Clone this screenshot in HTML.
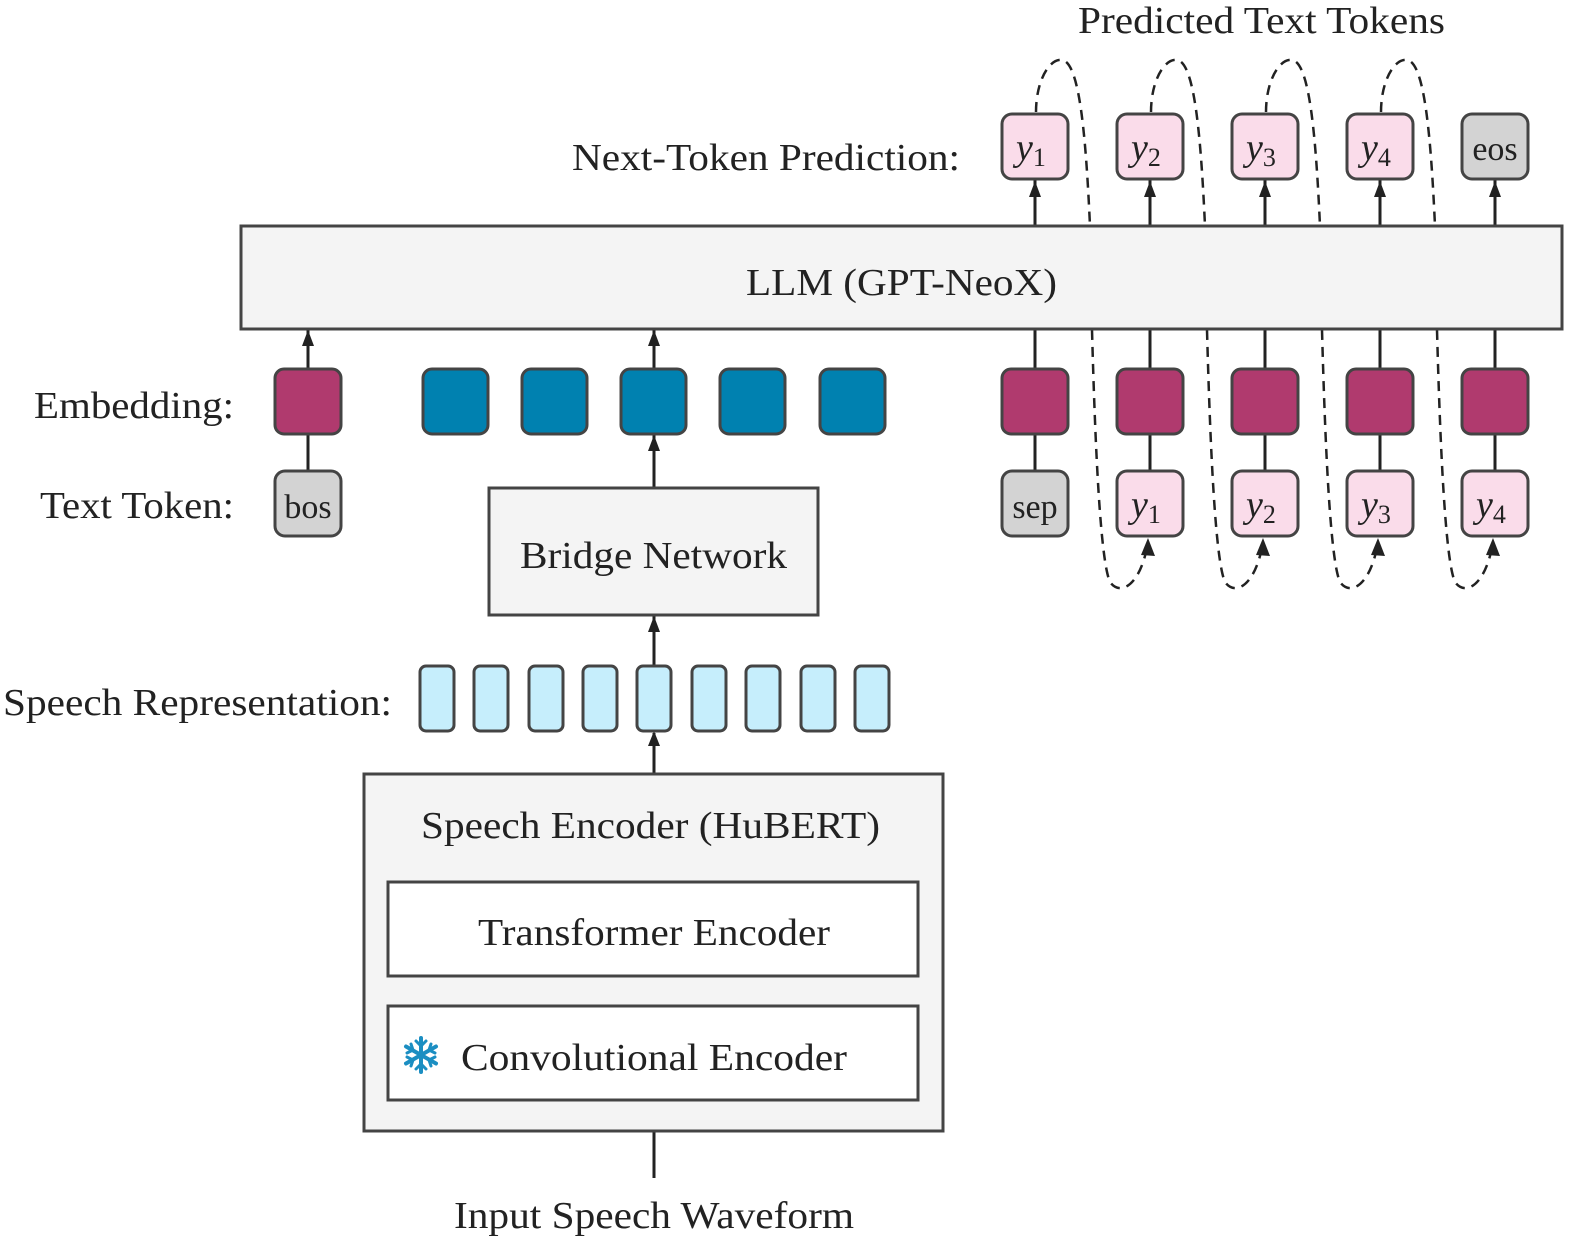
<!DOCTYPE html>
<html><head><meta charset="utf-8"><style>
html,body{margin:0;padding:0;background:#fff;overflow:hidden;width:1578px;height:1252px}
svg{display:block}
text{font-family:"Liberation Serif",serif;fill:#222}
</style></head><body>
<svg width="1578" height="1252" viewBox="0 0 1578 1252" xmlns="http://www.w3.org/2000/svg">
<g stroke="#222" stroke-width="3" fill="none">
<line x1="654" y1="1100" x2="654" y2="1178"/>
<line x1="654" y1="976" x2="654" y2="1006"/>
<line x1="654" y1="860" x2="654" y2="882"/>
<line x1="654" y1="774" x2="654" y2="733"/>
<line x1="654" y1="666" x2="654" y2="615"/>
<line x1="654" y1="488" x2="654" y2="434"/>
<line x1="654" y1="369" x2="654" y2="329"/>
<line x1="308" y1="471" x2="308" y2="434"/>
<line x1="308" y1="369" x2="308" y2="329"/>
<line x1="1035" y1="471" x2="1035" y2="329"/>
<line x1="1150" y1="471" x2="1150" y2="329"/>
<line x1="1265" y1="471" x2="1265" y2="329"/>
<line x1="1380" y1="471" x2="1380" y2="329"/>
<line x1="1495" y1="471" x2="1495" y2="329"/>
<line x1="1035" y1="226" x2="1035" y2="180"/>
<line x1="1150" y1="226" x2="1150" y2="180"/>
<line x1="1265" y1="226" x2="1265" y2="180"/>
<line x1="1380" y1="226" x2="1380" y2="180"/>
<line x1="1495" y1="226" x2="1495" y2="180"/>
</g>
<g fill="#222">
<path d="M648,746 L654,731 L660,746Z"/>
<path d="M648,632 L654,616 L660,632Z"/>
<path d="M648,451 L654,435 L660,451Z"/>
<path d="M648,346 L654,330 L660,346Z"/>
<path d="M302,346 L308,330 L314,346Z"/>
<path d="M1029,197 L1035,181 L1041,197Z"/>
<path d="M1144,197 L1150,181 L1156,197Z"/>
<path d="M1259,197 L1265,181 L1271,197Z"/>
<path d="M1374,197 L1380,181 L1386,197Z"/>
<path d="M1489,197 L1495,181 L1501,197Z"/>
</g>
<g stroke="#222" stroke-width="2.5" fill="none" stroke-dasharray="10,7">
<path d="M1036,112 C1036,80 1050,58 1062,60 C1080,62 1086,140 1090,226"/>
<path d="M1151,112 C1151,80 1165,58 1177,60 C1195,62 1201,140 1205,226"/>
<path d="M1266,112 C1266,80 1280,58 1292,60 C1310,62 1316,140 1320,226"/>
<path d="M1381,112 C1381,80 1395,58 1407,60 C1425,62 1431,140 1435,226"/>
<path d="M1092,330 C1095,440 1100,560 1110,582 C1120,596 1138,586 1146,552"/>
<path d="M1207,330 C1210,440 1215,560 1225,582 C1235,596 1253,586 1261,552"/>
<path d="M1322,330 C1325,440 1330,560 1340,582 C1350,596 1368,586 1376,552"/>
<path d="M1437,330 C1440,440 1445,560 1455,582 C1465,596 1483,586 1491,552"/>
</g>
<g fill="#222">
<path d="M1141,555 L1148,538 L1155,556Z"/>
<path d="M1256,555 L1263,538 L1270,556Z"/>
<path d="M1371,555 L1378,538 L1385,556Z"/>
<path d="M1486,555 L1493,538 L1500,556Z"/>
</g>
<g stroke="#444" stroke-width="3">
<rect x="241" y="226" width="1321" height="103" fill="#f4f4f4"/>
<rect x="489" y="488" width="329" height="127" fill="#f4f4f4"/>
<rect x="364" y="774" width="579" height="357" fill="#f4f4f4"/>
<rect x="388" y="882" width="530" height="94" fill="#fff"/>
<rect x="388" y="1006" width="530" height="94" fill="#fff"/>
<rect x="275" y="369" width="66" height="65" rx="9" fill="#b03a6e"/>
<rect x="1002" y="369" width="66" height="65" rx="9" fill="#b03a6e"/>
<rect x="1117" y="369" width="66" height="65" rx="9" fill="#b03a6e"/>
<rect x="1232" y="369" width="66" height="65" rx="9" fill="#b03a6e"/>
<rect x="1347" y="369" width="66" height="65" rx="9" fill="#b03a6e"/>
<rect x="1462" y="369" width="66" height="65" rx="9" fill="#b03a6e"/>
<rect x="423" y="369" width="65" height="65" rx="9" fill="#0081b0"/>
<rect x="522" y="369" width="65" height="65" rx="9" fill="#0081b0"/>
<rect x="621" y="369" width="65" height="65" rx="9" fill="#0081b0"/>
<rect x="720" y="369" width="65" height="65" rx="9" fill="#0081b0"/>
<rect x="820" y="369" width="65" height="65" rx="9" fill="#0081b0"/>
<rect x="420" y="666" width="34" height="65" rx="6" fill="#c6eefc"/>
<rect x="474" y="666" width="34" height="65" rx="6" fill="#c6eefc"/>
<rect x="529" y="666" width="34" height="65" rx="6" fill="#c6eefc"/>
<rect x="583" y="666" width="34" height="65" rx="6" fill="#c6eefc"/>
<rect x="637" y="666" width="34" height="65" rx="6" fill="#c6eefc"/>
<rect x="692" y="666" width="34" height="65" rx="6" fill="#c6eefc"/>
<rect x="746" y="666" width="34" height="65" rx="6" fill="#c6eefc"/>
<rect x="801" y="666" width="34" height="65" rx="6" fill="#c6eefc"/>
<rect x="855" y="666" width="34" height="65" rx="6" fill="#c6eefc"/>
<rect x="275" y="471" width="66" height="65" rx="10" fill="#d3d3d3"/>
<rect x="1002" y="471" width="66" height="65" rx="10" fill="#d3d3d3"/>
<rect x="1117" y="471" width="66" height="65" rx="10" fill="#fadcea"/>
<rect x="1232" y="471" width="66" height="65" rx="10" fill="#fadcea"/>
<rect x="1347" y="471" width="66" height="65" rx="10" fill="#fadcea"/>
<rect x="1462" y="471" width="66" height="65" rx="10" fill="#fadcea"/>
<rect x="1002" y="114" width="66" height="65" rx="10" fill="#fadcea"/>
<rect x="1117" y="114" width="66" height="65" rx="10" fill="#fadcea"/>
<rect x="1232" y="114" width="66" height="65" rx="10" fill="#fadcea"/>
<rect x="1347" y="114" width="66" height="65" rx="10" fill="#fadcea"/>
<rect x="1462" y="114" width="66" height="65" rx="10" fill="#d3d3d3"/>
</g>
<g font-size="38">
<text x="1078" y="33" textLength="367" lengthAdjust="spacingAndGlyphs">Predicted Text Tokens</text>
<text x="572" y="170" textLength="388" lengthAdjust="spacingAndGlyphs">Next-Token Prediction:</text>
<text x="746" y="295" textLength="311" lengthAdjust="spacingAndGlyphs">LLM (GPT-NeoX)</text>
<text x="34" y="418" textLength="200" lengthAdjust="spacingAndGlyphs">Embedding:</text>
<text x="40" y="518" textLength="194" lengthAdjust="spacingAndGlyphs">Text Token:</text>
<text x="520" y="568" textLength="267" lengthAdjust="spacingAndGlyphs">Bridge Network</text>
<text x="3" y="715" textLength="389" lengthAdjust="spacingAndGlyphs">Speech Representation:</text>
<text x="421" y="838" textLength="459" lengthAdjust="spacingAndGlyphs">Speech Encoder (HuBERT)</text>
<text x="478" y="945" textLength="352" lengthAdjust="spacingAndGlyphs">Transformer Encoder</text>
<text x="461" y="1070" textLength="386" lengthAdjust="spacingAndGlyphs">Convolutional Encoder</text>
<text x="454" y="1228" textLength="400" lengthAdjust="spacingAndGlyphs">Input Speech Waveform</text>
</g>
<g font-size="34" text-anchor="middle">
<text x="308" y="518">bos</text>
<text x="1035" y="518">sep</text>
<text x="1495" y="160">eos</text>
</g>
<g font-size="38" font-style="italic">
<text x="1016" y="160">y<tspan font-style="normal" font-size="26" dy="6">1</tspan></text>
<text x="1131" y="160">y<tspan font-style="normal" font-size="26" dy="6">2</tspan></text>
<text x="1246" y="160">y<tspan font-style="normal" font-size="26" dy="6">3</tspan></text>
<text x="1361" y="160">y<tspan font-style="normal" font-size="26" dy="6">4</tspan></text>
<text x="1131" y="517">y<tspan font-style="normal" font-size="26" dy="6">1</tspan></text>
<text x="1246" y="517">y<tspan font-style="normal" font-size="26" dy="6">2</tspan></text>
<text x="1361" y="517">y<tspan font-style="normal" font-size="26" dy="6">3</tspan></text>
<text x="1476" y="517">y<tspan font-style="normal" font-size="26" dy="6">4</tspan></text>
</g>
<g stroke="#1b8ec2" stroke-width="4" stroke-linecap="round" transform="translate(421,1055)">
<line x1="0" y1="-17" x2="0" y2="17"/>
<line x1="-15" y1="-8.5" x2="15" y2="8.5"/>
<line x1="-15" y1="8.5" x2="15" y2="-8.5"/>
<path d="M-5,-14 L0,-9 L5,-14 M-5,14 L0,9 L5,14 M-14,-2 L-8,-5 L-10,-11 M14,2 L8,5 L10,11 M14,-2 L8,-5 L10,-11 M-14,2 L-8,5 L-10,11" fill="none" stroke-width="3"/>
</g>
</svg>
</body></html>
